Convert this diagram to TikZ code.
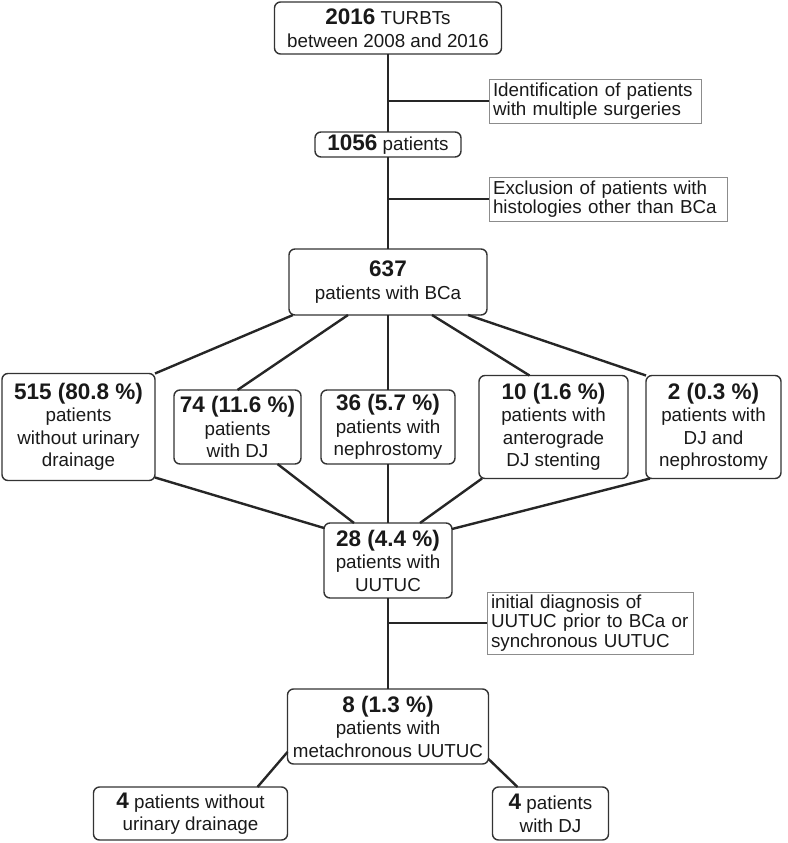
\documentclass[tikz,border=0pt]{standalone}
\usepackage{fontspec}
\setmainfont{Liberation Sans}
\usetikzlibrary{positioning}

\newcommand{\cnt}[1]{{\fontsize{22.5}{22.5}\selectfont\bfseries #1}}

\begin{document}
\begin{tikzpicture}[x=1pt, y=-1pt,
    box/.style={draw=black!80, line width=1.4pt, rounded corners=6pt, align=center, inner sep=1pt, outer sep=0pt, text=black!90, font=\fontsize{18.8}{22.5}\selectfont},
    note/.style={draw=black!45, line width=0.8pt, align=left, inner xsep=4pt, inner ysep=1pt, outer sep=0pt, text=black!90, font=\fontsize{18.8}{19.5}\selectfont},
    link/.style={draw=black!85, line width=2.4pt},
    tick/.style={draw=black!85, line width=2pt}]
    \useasboundingbox (0,0) rectangle (787,843);

    % main chain
    \node[box, minimum width=227pt, minimum height=52pt] (turbt) at (388,28) {\cnt{2016} TURBTs\\between 2008 and 2016};
    \node[box, minimum width=146pt, minimum height=25pt, below=78pt of turbt] (patients) {\cnt{1056} patients};
    \node[box, minimum width=198pt, minimum height=66pt, below=92pt of patients] (bca) {\cnt{637}\\patients with BCa};

    % drainage groups
    \node[box, minimum width=134pt, minimum height=74pt, below=75pt of bca] (nephro) {\cnt{36 (5.7 \%)}\\patients with\\nephrostomy};
    \node[box, minimum width=127pt, minimum height=74pt, left=20pt of nephro] (dj) {\cnt{74 (11.6 \%)}\\patients\\with DJ};
    \node[box, minimum width=153pt, minimum height=107pt, left=19pt of dj] (nodrain) {\cnt{515 (80.8 \%)}\\patients\\without urinary\\drainage};
    \node[box, minimum width=149pt, minimum height=103pt, right=24pt of nephro] (antero) {\cnt{10 (1.6 \%)}\\patients with\\anterograde\\DJ stenting};
    \node[box, minimum width=135pt, minimum height=103pt, right=18pt of antero] (djnephro) {\cnt{2 (0.3 \%)}\\patients with\\DJ and\\nephrostomy};

    \node[box, minimum width=128pt, minimum height=75pt, below=59pt of nephro] (uutuc) {\cnt{28 (4.4 \%)}\\patients with\\UUTUC};
    \node[box, minimum width=201pt, minimum height=75pt, below=91pt of uutuc] (meta) {\cnt{8 (1.3 \%)}\\patients with\\metachronous UUTUC};
    \node[box, minimum width=194pt, minimum height=53pt, below left=23pt and 0pt of meta.south west] (metanodrain) {\cnt{4} patients without\\urinary drainage};
    \node[box, minimum width=116pt, minimum height=53pt, below right=23pt and 4pt of meta.south east] (metadj) {\cnt{4} patients\\with DJ};

    % side notes
    \node[note, text width=204pt, minimum height=44pt] (ident) at (595,101) {Identification of patients\\with multiple surgeries};
    \node[note, text width=230pt, minimum height=44pt] (excl) at (608,199) {Exclusion of patients with\\histologies other than BCa};
    \node[note, text width=198pt, minimum height=62pt] (initial) at (590,623) {initial diagnosis of\\UUTUC prior to BCa or\\synchronous UUTUC};

    \draw[link] (turbt) -- (patients);
    \draw[link] (patients) -- (bca);
    \draw[link] (uutuc) -- (meta);
    \draw[tick] (turbt.south |- ident.west) -- (ident.west);
    \draw[tick] (patients.south |- excl.west) -- (excl.west);
    \draw[tick] (uutuc.south |- initial.west) -- (initial.west);

    \draw[link] ([xshift=4pt]bca.south west) -- (nodrain.north east);
    \draw[link] ([xshift=-40pt]bca.south) -- (dj.north);
    \draw[link] (bca) -- (nephro);
    \draw[link] ([xshift=44pt]bca.south) -- ([xshift=-24pt]antero.north);
    \draw[link] ([xshift=-19pt]bca.south east) -- (djnephro.north west);

    \draw[link] ([yshift=3pt]nodrain.south east) -- ([yshift=-5pt]uutuc.north west);
    \draw[link] ([xshift=40pt]dj.south) -- ([xshift=-34pt]uutuc.north);
    \draw[link] (nephro) -- (uutuc);
    \draw[link] ([xshift=3pt]antero.south west) -- ([xshift=32pt]uutuc.north);
    \draw[link] ([xshift=4pt]djnephro.south west) -- ([yshift=-6pt]uutuc.north east);

    \draw[link] ([yshift=12pt]meta.south west) -- ([xshift=-30pt]metanodrain.north east);
    \draw[link] ([yshift=5pt]meta.south east) -- ([xshift=25pt]metadj.north west);
\end{tikzpicture}
\end{document}
